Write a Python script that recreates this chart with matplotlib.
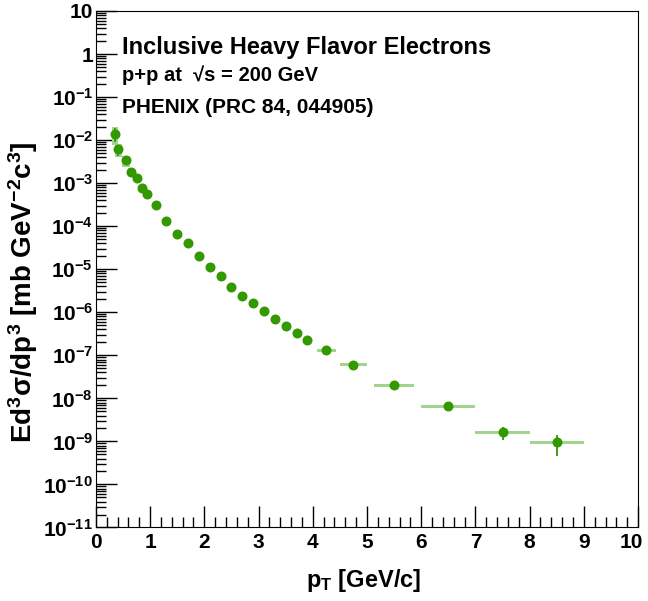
import matplotlib
matplotlib.use('Agg')
from matplotlib import pyplot as plt
from matplotlib.patches import Rectangle
from matplotlib.transforms import ScaledTranslation
from matplotlib.ticker import LogLocator, MultipleLocator, FuncFormatter, NullFormatter
import math

plt.rcParams['font.family'] = ['Liberation Sans', 'DejaVu Sans']
plt.rcParams['font.weight'] = 'bold'
plt.rcParams['mathtext.fontset'] = 'custom'
plt.rcParams['mathtext.rm'] = 'Liberation Sans:bold'
plt.rcParams['mathtext.it'] = 'Liberation Sans:bold'
plt.rcParams['mathtext.bf'] = 'Liberation Sans:bold'
plt.rcParams['mathtext.default'] = 'rm'

# PHENIX p+p heavy flavor electrons
pt = [0.35, 0.41, 0.55, 0.65, 0.75, 0.85, 0.95, 1.1, 1.3, 1.5, 1.7, 1.9, 2.1, 2.3,
      2.5, 2.7, 2.9, 3.1, 3.3, 3.5, 3.7, 3.9, 4.25, 4.75, 5.5, 6.5, 7.5, 8.5]
xsec = [1.38e-2, 6.1e-3, 3.37e-3, 1.83e-3, 1.33e-3, 7.65e-4, 5.75e-4, 3.19e-4,
        1.29e-4, 6.52e-5, 4.03e-5, 2.0e-5, 1.13e-5, 6.87e-6, 3.95e-6, 2.44e-6,
        1.62e-6, 1.05e-6, 7.13e-7, 4.9e-7, 3.36e-7, 2.32e-7, 1.31e-7, 6.07e-8,
        2.04e-8, 6.5e-9, 1.65e-9, 9.5e-10]
stat_rel = [0.36, 0.28, 0.06, 0.05, 0.05, 0.05, 0.05, 0.04, 0.04, 0.04, 0.04, 0.04,
            0.04, 0.04, 0.05, 0.05, 0.05, 0.06, 0.06, 0.07, 0.08, 0.08, 0.08, 0.1,
            0.12, 0.15, 0.33, 0.52]
sys_rel = [0.45, 0.35, 0.28, 0.2, 0.15, 0.12, 0.1, 0.09, 0.08, 0.08, 0.08, 0.08,
           0.08, 0.08, 0.08, 0.08, 0.08, 0.08, 0.08, 0.08, 0.08, 0.08, 0.08, 0.08,
           0.08, 0.08, 0.08, 0.08]
sys_hw = [0.062, 0.065, 0.074, 0.06, 0.06, 0.06, 0.06, 0.06, 0.06, 0.06, 0.06, 0.06,
          0.06, 0.06, 0.06, 0.06, 0.06, 0.06, 0.06, 0.06, 0.06, 0.06, 0.175, 0.25,
          0.375, 0.5, 0.5, 0.5]

green = '#339900'
light = '#a3d48e'

fig = plt.figure(figsize=(6.48, 6.01), dpi=100)
ax = fig.add_axes([0.148, 0.1223, 0.8367, 0.8594])

for x, y, s, hw in zip(pt, xsec, sys_rel, sys_hw):
    ax.add_patch(Rectangle((x - hw, y * (1 - s)), 2 * hw, 2 * s * y,
                           facecolor=light, edgecolor='none', zorder=2))

err = [y * r for y, r in zip(xsec, stat_rel)]
ax.errorbar(pt, xsec, yerr=err, fmt='o', color=green, ms=7.2, mew=0,
            elinewidth=1.3, capsize=3.2, capthick=1.3, zorder=3)

ax.set_yscale('log')
ax.set_xlim(0, 10)
ax.set_ylim(1e-11, 10)

def ylab(v, pos):
    e = int(round(math.log10(v)))
    if e == 0:
        return '1'
    if e == 1:
        return '10'
    return '$10^{%d}$' % e

ax.yaxis.set_major_locator(LogLocator(base=10, numticks=20))
ax.yaxis.set_minor_locator(LogLocator(base=10, subs=range(2, 10), numticks=20))
ax.yaxis.set_major_formatter(FuncFormatter(ylab))
ax.yaxis.set_minor_formatter(NullFormatter())
ax.xaxis.set_major_locator(MultipleLocator(1))
ax.xaxis.set_minor_locator(MultipleLocator(0.2))

ax.tick_params(which='major', direction='in', length=15, width=1, labelsize=15)
ax.tick_params(which='minor', direction='in', length=7.5, width=1)
ax.tick_params(axis='x', pad=4)
ax.tick_params(axis='y', pad=2)
for lab in ax.get_xticklabels() + ax.get_yticklabels():
    lab.set_fontweight('bold')

ax.set_xlabel('p$_{T}$ [GeV/c]', fontsize=17, fontweight='bold', va='center')
ax.xaxis.set_label_coords(0.493, -0.103)
ax.set_ylabel('Ed$^{3}$σ/dp$^{3}$ [mb GeV$^{-2}$c$^{3}$]', fontsize=20,
              fontweight='bold', va='center')
ax.yaxis.set_label_coords(-0.135, 0.456)

ax.text(0.049, 0.917, 'Inclusive Heavy Flavor Electrons', transform=ax.transAxes,
        fontsize=17, fontweight='bold', va='baseline')
ax.text(0.049, 0.864, 'p+p at  √s = 200 GeV', transform=ax.transAxes,
        fontsize=14.5, fontweight='bold', va='baseline')
ax.text(0.049, 0.8025, 'PHENIX (PRC 84, 044905)', transform=ax.transAxes,
        fontsize=15, fontweight='bold', va='baseline')

# keep the last x label ("10") inside the canvas
fig.canvas.draw()
for tick in ax.xaxis.get_major_ticks():
    if abs(tick.get_loc() - 10) < 1e-6:
        lab = tick.label1
        lab.set_transform(lab.get_transform() +
                          ScaledTranslation(-5 / 72, 0, fig.dpi_scale_trans))

fig.savefig('out.png', dpi=100)
